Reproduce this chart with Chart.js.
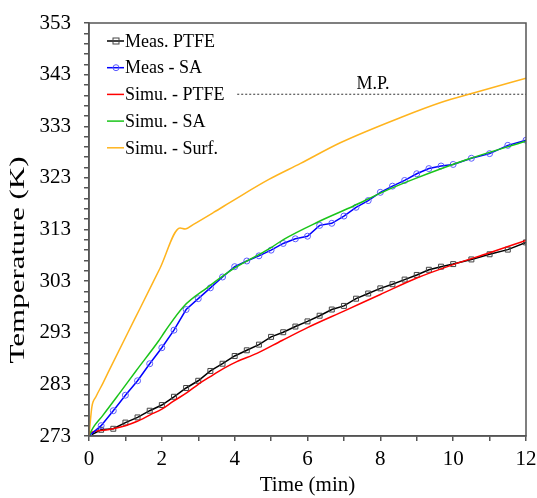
<!DOCTYPE html>
<html>
<head>
<meta charset="utf-8">
<script src="https://cdn.jsdelivr.net/npm/chart.js@4.4.1/dist/chart.umd.min.js"></script>
<style>
  html, body { margin: 0; padding: 0; background: #fff; }
  #wrap { width: 537px; height: 498px; }
</style>
</head>
<body>
<div id="wrap"><canvas id="tempChart" width="537" height="498"></canvas></div>
<script>
// measured points, every 20 s up to 10 min then every 30 s
const measTime = [0, 0.333, 0.667, 1, 1.333, 1.667, 2, 2.333, 2.667, 3, 3.333, 3.667, 4, 4.333, 4.667,
  5, 5.333, 5.667, 6, 6.333, 6.667, 7, 7.333, 7.667, 8, 8.333, 8.667, 9, 9.333, 9.667, 10,
  10.5, 11, 11.5, 12];
const measPTFE = [273, 274.2, 274.4, 275.6, 276.6, 277.9, 279, 280.6, 282.3, 283.7, 285.6, 287, 288.5, 289.6, 290.7,
  292.2, 293.1, 294.2, 295.2, 296.3, 297.5, 298.2, 299.6, 300.6, 301.6, 302.4, 303.3, 304.2, 305.2, 305.8, 306.3,
  307.2, 308.2, 309.1, 310.5];
const measSA = [273, 275, 277.9, 280.9, 283.7, 287, 290.1, 293.5, 297.5, 299.6, 301.7, 303.8, 305.8, 306.9, 307.9,
  309, 310.3, 311.2, 311.7, 313.8, 314.2, 315.6, 317.3, 318.6, 320.2, 321.4, 322.5, 323.8, 324.8, 325.3, 325.6,
  326.8, 327.7, 329.3, 330.3];

// simulation curves
const simPTFETime = [0, 0.1, 0.4, 0.66, 1, 1.31, 1.68, 2, 2.31, 2.69, 3, 3.33, 3.7, 4.06, 4.61, 5.3, 6, 7, 8, 9, 10, 11, 12];
const simPTFE = [273, 273.8, 274.1, 274.4, 275, 275.8, 277.1, 278.2, 279.7, 281.4, 283, 284.5, 286.1, 287.4, 289, 291.5,
  294, 297.2, 300.4, 303.6, 306.2, 308.5, 310.9];
const simSATime = [0, 0.05, 0.15, 0.38, 0.83, 1.29, 1.91, 2.09, 2.6, 3.24, 3.97, 4.98, 5.35, 6.27, 7.28, 8.05, 8.9, 10.4, 12];
const simSA = [273, 273.8, 275, 277, 281.2, 285.6, 291.4, 293.3, 298.1, 301.7, 305.4, 309.4, 311.1, 314.4, 317.6, 320.2,
  322.7, 326.6, 330.1];
const simSurfTime = [0, 0.08, 0.19, 0.38, 0.56, 1.08, 1.4, 1.95, 2.5, 2.64, 2.87, 3.42, 4, 4.94, 5.81, 6.9, 8.56, 9.66, 10.58, 12];
const simSurf = [273, 278.7, 280.6, 283.2, 285.8, 293.2, 297.7, 305.5, 313.3, 313.1, 314, 316.3, 318.8, 322.7, 325.8,
  329.8, 334.7, 337.6, 339.5, 342.3];

// melting point marker
const mpTime = [4.07, 12];
const mpTemp = [339.2, 339.2];

const xMin = 0, xMax = 12, xStep = 1, xLabelStep = 2;
const yMin = 273, yMax = 353, yStep = 2, yLabelStep = 10;

const seriesNames = ["Meas. PTFE", "Meas - SA", "Simu. - PTFE", "Simu. - SA", "Simu. - Surf."];
const seriesColors = ["#000000", "#0000ff", "#ff0000", "#19c419", "#ffb41e"];

const serif = "'Liberation Serif', 'Times New Roman', serif";
const axisColor = "#555555";

function pts(xs, ys) {
  return xs.map((x, i) => ({ x: x, y: ys[i] }));
}

function makeTicks(min, max, step) {
  const t = [];
  for (let v = min; v <= max + 1e-9; v += step) t.push({ value: Math.round(v * 1000) / 1000 });
  return t;
}

const boxPlugin = {
  id: "boxPlugin",
  afterDraw(chart) {
    const c = chart.ctx;
    const a = chart.chartArea;
    const xs = chart.scales.x;
    const ys = chart.scales.y;
    c.save();
    c.strokeStyle = axisColor;
    c.lineWidth = 1.5;
    c.strokeRect(a.left, a.top, a.right - a.left, a.bottom - a.top);

    // M.P. label
    c.fillStyle = "#000";
    c.font = "18px " + serif;
    c.textAlign = "center";
    c.textBaseline = "alphabetic";
    c.fillText("M.P.", xs.getPixelForValue(7.8), ys.getPixelForValue(339.2) - 5);

    // legend
    c.font = "18px " + serif;
    c.textAlign = "left";
    c.textBaseline = "middle";
    for (let i = 0; i < seriesNames.length; i++) {
      const y = 41 + i * 26.7;
      c.strokeStyle = seriesColors[i];
      c.lineWidth = 1.5;
      c.beginPath();
      c.moveTo(107, y);
      c.lineTo(124, y);
      c.stroke();
      if (i === 0) {
        c.strokeStyle = "#444";
        c.lineWidth = 1;
        c.strokeRect(113, y - 3, 6, 6);
      } else if (i === 1) {
        c.strokeStyle = "#5a5aff";
        c.lineWidth = 1;
        c.beginPath();
        c.arc(116, y, 3, 0, 2 * Math.PI);
        c.stroke();
      }
      c.fillStyle = "#000";
      c.fillText(seriesNames[i], 125, y + 1);
    }

    // axis titles
    c.font = "21px " + serif;
    c.textAlign = "center";
    c.textBaseline = "middle";
    c.fillText("Time (min)", (a.left + a.right) / 2, 485);

    c.save();
    c.translate(19, 260);
    c.rotate(-Math.PI / 2);
    c.font = "20px " + serif;
    const w = c.measureText("Temperature (K)").width;
    c.scale(207 / w, 1);
    c.fillText("Temperature (K)", 0, 0);
    c.restore();
    c.restore();
  }
};

const chart = new Chart(document.getElementById("tempChart"), {
  type: "line",
  data: {
    datasets: [
      {
        label: "Simu. - Surf.",
        data: pts(simSurfTime, simSurf),
        borderColor: seriesColors[4],
        borderWidth: 1.5,
        pointRadius: 0,
        cubicInterpolationMode: "monotone",
        fill: false
      },
      {
        label: "Simu. - SA",
        data: pts(simSATime, simSA),
        borderColor: seriesColors[3],
        borderWidth: 1.5,
        pointRadius: 0,
        cubicInterpolationMode: "monotone",
        fill: false
      },
      {
        label: "Meas - SA",
        data: pts(measTime, measSA),
        borderColor: seriesColors[1],
        borderWidth: 1.5,
        pointStyle: "circle",
        pointRadius: 3,
        pointBorderColor: "#5a5aff",
        pointBorderWidth: 1,
        pointBackgroundColor: "rgba(255,255,255,0)",
        tension: 0,
        fill: false
      },
      {
        label: "Simu. - PTFE",
        data: pts(simPTFETime, simPTFE),
        borderColor: seriesColors[2],
        borderWidth: 1.5,
        pointRadius: 0,
        cubicInterpolationMode: "monotone",
        fill: false
      },
      {
        label: "Meas. PTFE",
        data: pts(measTime, measPTFE),
        borderColor: seriesColors[0],
        borderWidth: 1.5,
        pointStyle: "rect",
        pointRadius: 3.5,
        pointBorderColor: "#444",
        pointBorderWidth: 1,
        pointBackgroundColor: "rgba(255,255,255,0)",
        tension: 0,
        fill: false
      },
      {
        label: "M.P.",
        data: pts(mpTime, mpTemp),
        borderColor: "#333",
        borderWidth: 1,
        borderDash: [2, 2],
        pointRadius: 0,
        fill: false
      }
    ]
  },
  options: {
    responsive: false,
    animation: false,
    events: [],
    layout: { padding: { top: 23, right: 11, left: 0, bottom: 0 } },
    plugins: {
      legend: { display: false },
      tooltip: { enabled: false }
    },
    scales: {
      x: {
        type: "linear",
        min: xMin,
        max: xMax,
        afterBuildTicks(s) { s.ticks = makeTicks(xMin, xMax, xStep); },
        afterFit(s) { s.height = 62; s.paddingLeft = 0; s.paddingRight = 0; },
        grid: { drawOnChartArea: false, drawTicks: true, tickLength: 5, color: axisColor, lineWidth: 1.5 },
        border: { display: true, color: axisColor, width: 1.5 },
        ticks: {
          color: "#000",
          font: { family: serif, size: 21 },
          padding: 6,
          maxRotation: 0,
          autoSkip: false,
          callback(v) { return Math.abs(v % xLabelStep) < 1e-6 ? String(v) : ""; }
        }
      },
      y: {
        type: "linear",
        min: yMin,
        max: yMax,
        afterBuildTicks(s) { s.ticks = makeTicks(yMin, yMax, yStep); },
        afterFit(s) { s.width = 89; s.paddingTop = 0; s.paddingBottom = 0; },
        grid: { drawOnChartArea: false, drawTicks: true, tickLength: 5, color: axisColor, lineWidth: 1.5 },
        border: { display: true, color: axisColor, width: 1.5 },
        ticks: {
          color: "#000",
          font: { family: serif, size: 21 },
          padding: 13,
          autoSkip: false,
          callback(v) { return Math.abs((v - yMin) % yLabelStep) < 1e-6 ? String(v) : ""; }
        }
      }
    }
  },
  plugins: [boxPlugin]
});
</script>
</body>
</html>
